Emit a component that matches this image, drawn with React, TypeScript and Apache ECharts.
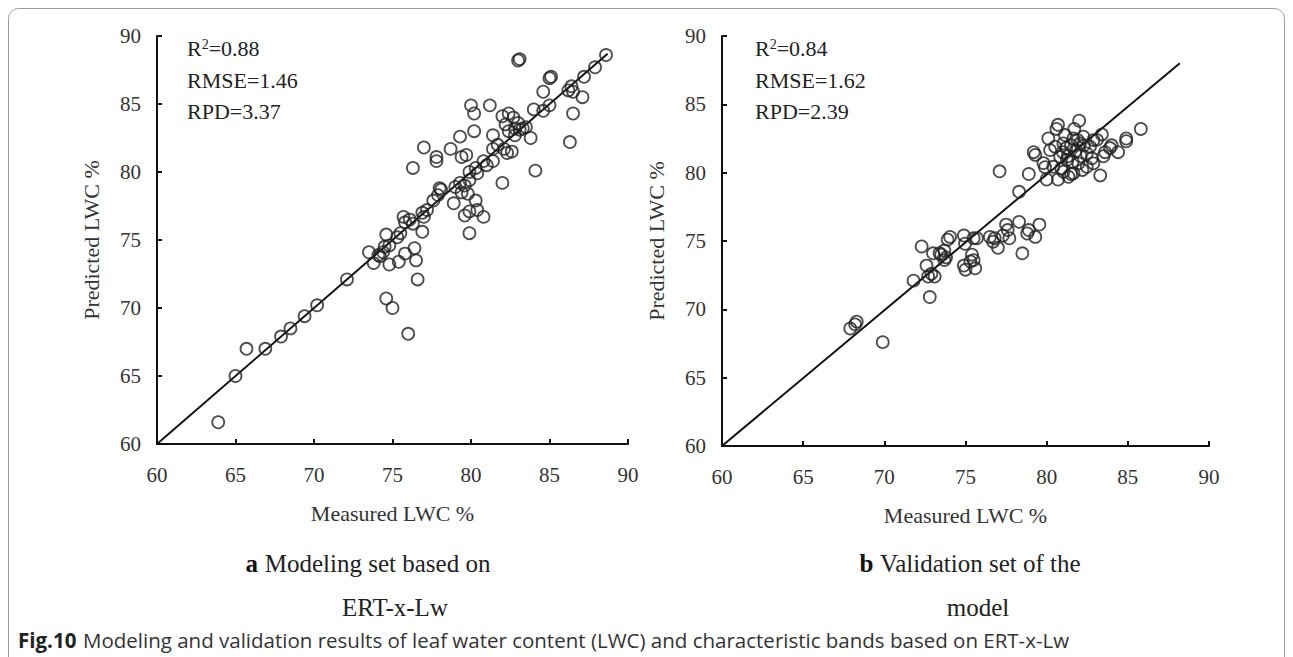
import React, { useEffect, useRef } from "react";
import * as echarts from "echarts";

const axisTicks = [60, 65, 70, 75, 80, 85, 90];

const modelingSet: number[][] = [
  [63.9, 61.6], [65.0, 65.0], [65.7, 67.0], [66.9, 67.0], [67.9, 67.9], [68.5, 68.5], [69.4, 69.4], [70.2, 70.2], [72.1, 72.1],
  [73.5, 74.1], [73.8, 73.3], [74.1, 73.9], [74.4, 74.1], [74.2, 73.8],
  [74.6, 75.4], [74.8, 74.6], [75.3, 75.2], [75.5, 75.5], [74.5, 74.5],
  [74.8, 73.2], [75.4, 73.4], [75.8, 74.0], [76.4, 74.4], [76.5, 73.5], [76.6, 72.1],
  [74.6, 70.7], [75.0, 70.0], [76.0, 68.1],
  [75.7, 76.7], [75.8, 76.3], [76.1, 76.5], [76.3, 76.2], [76.9, 75.6],
  [77.2, 77.2], [76.9, 77.0], [77.0, 76.7],
  [77.6, 77.9], [77.9, 78.3], [78.1, 78.7], [78.0, 78.8],
  [78.9, 77.7], [79.0, 78.9], [79.3, 79.2], [79.6, 79.0], [79.9, 79.4], [79.4, 78.5], [79.8, 78.4],
  [80.3, 77.9], [79.9, 77.1], [80.4, 77.2], [80.8, 76.7], [79.6, 76.8], [79.9, 75.5],
  [81.4, 80.8], [80.8, 80.8], [81.0, 80.5], [80.3, 80.3], [79.9, 80.0], [80.4, 79.9],
  [81.4, 81.7], [81.7, 82.0], [82.1, 81.7], [82.6, 81.5], [82.3, 81.4],
  [81.4, 82.7], [82.0, 79.2], [81.2, 84.9], [80.0, 84.9], [80.2, 84.3], [80.2, 83.0], [79.3, 82.6], [78.7, 81.7],
  [77.0, 81.8], [77.8, 81.1], [77.8, 80.8], [76.3, 80.3], [79.4, 81.1], [79.7, 81.25],
  [82.0, 84.1], [82.4, 84.3], [82.7, 84.0], [82.2, 83.5], [82.4, 83.0], [82.8, 83.2], [83.0, 83.6],
  [82.8, 82.7], [83.1, 83.1], [83.5, 83.3], [83.3, 83.2], [83.8, 82.5], [84.1, 80.1],
  [84.0, 84.6], [84.6, 84.5], [85.0, 84.9],
  [86.5, 84.3], [86.3, 82.2], [84.6, 85.9], [87.1, 85.5],
  [86.4, 86.3], [86.2, 86.0], [86.5, 85.9],
  [85.1, 87.0], [85.0, 86.9],
  [83.1, 88.3], [83.0, 88.2],
  [87.2, 87.0], [87.9, 87.7], [88.6, 88.6],
];

const validationSet: number[][] = [
  [69.9, 67.6], [67.9, 68.6], [68.2, 68.9], [68.3, 69.1], [71.8, 72.1], [72.3, 74.6], [72.8, 70.9],
  [72.6, 73.2], [72.7, 72.4], [72.9, 72.6], [73.1, 72.4], [73.0, 74.1], [73.4, 74.1], [73.8, 73.8], [73.7, 74.3], [73.9, 75.1],
  [73.5, 74.0], [73.7, 73.6], [74.05, 75.3], [74.9, 75.4], [75.5, 75.2], [74.97, 74.8], [75.7, 75.2], [76.5, 75.3],
  [76.8, 75.2], [76.7, 74.95], [77.0, 74.5], [77.5, 76.2], [77.6, 75.8], [77.3, 75.4], [77.7, 75.2], [78.3, 76.4],
  [78.5, 74.1], [78.8, 75.55], [78.9, 75.8], [79.3, 75.3], [79.55, 76.2],
  [74.9, 73.2], [75.0, 72.9], [75.4, 74.0], [75.5, 73.6], [75.6, 73.0], [75.3, 73.5],
  [77.1, 80.1], [78.3, 78.6], [78.9, 79.9], [79.2, 81.5], [79.3, 81.3], [79.8, 80.7], [79.9, 80.4], [80.0, 79.5], [80.7, 79.5],
  [80.1, 82.5], [80.7, 83.5], [80.6, 83.2], [81.7, 83.2], [82.0, 83.8],
  [82.06, 82.14], [82.67, 81.9], [82.78, 81.05], [82.47, 80.43], [82.88, 80.68], [81.65, 79.95], [81.34, 79.7],
  [81.03, 80.07], [80.41, 80.43], [80.52, 81.9], [81.03, 82.14], [81.13, 82.75], [81.65, 82.5], [82.26, 82.63],
  [82.47, 81.41], [81.96, 80.68], [81.24, 80.92], [80.83, 81.16], [80.21, 81.65], [82.88, 82.38],
  [81.2, 81.8], [81.5, 82.0], [81.8, 81.6], [81.3, 81.2], [81.6, 80.8], [82.1, 81.2], [81.0, 81.5], [81.9, 82.4],
  [82.3, 82.0], [80.9, 80.3], [81.5, 79.9], [82.2, 80.2],
  [83.4, 82.8], [83.1, 82.4], [83.3, 79.8], [84.0, 82.0], [83.9, 81.8], [83.6, 81.5], [83.5, 81.2], [84.4, 81.5],
  [84.9, 82.5], [84.9, 82.3], [85.8, 83.2],
];

const modelingLine: number[][] = [[60, 60], [88.7, 88.7]];
const validationLine: number[][] = [[60, 60], [88.2, 88.0]];

const modelingStats = ["0.88", "RMSE=1.46", "RPD=3.37"];
const validationStats = ["0.84", "RMSE=1.62", "RPD=2.39"];

const SERIF = "'Liberation Serif', 'Times New Roman', serif";
const SANS = "'Open Sans', 'Noto Sans', sans-serif";

export default function App() {
  const ref = useRef<HTMLDivElement>(null);
  useEffect(() => {
    if (!ref.current) return;
    const chart = echarts.init(ref.current, null, { renderer: "svg" });
    const mkX = (i: number) => ({
      gridIndex: i,
      type: "value",
      min: axisTicks[0],
      max: axisTicks[axisTicks.length - 1],
      interval: 5,
      name: "Measured LWC %",
      nameLocation: "middle",
      nameGap: 58,
      nameTextStyle: { fontFamily: SERIF, fontSize: 22, color: "#333" },
      axisLine: { lineStyle: { color: "#111", width: 2 } },
      axisTick: { inside: true, length: 5, lineStyle: { color: "#111", width: 2 } },
      axisLabel: { margin: 20, fontFamily: SERIF, fontSize: 21, color: "#333" },
      splitLine: { show: false },
    });
    const mkY = (i: number) => ({
      gridIndex: i,
      type: "value",
      min: axisTicks[0],
      max: axisTicks[axisTicks.length - 1],
      interval: 5,
      name: "Predicted LWC %",
      nameLocation: "middle",
      nameGap: 55,
      nameTextStyle: { fontFamily: SERIF, fontSize: 22, color: "#333" },
      axisLine: { lineStyle: { color: "#111", width: 2 } },
      axisTick: { inside: true, length: 5, lineStyle: { color: "#111", width: 2 } },
      axisLabel: { margin: 16, fontFamily: SERIF, fontSize: 21, color: "#333" },
      splitLine: { show: false },
    });
    const scatterStyle = {
      type: "scatter",
      symbol: "circle",
      symbolSize: 12,
      itemStyle: { color: "rgba(0,0,0,0)", borderColor: "#222", borderWidth: 1.8 },
      z: 3,
    };
    const lineStyle = {
      type: "line",
      symbol: "none",
      lineStyle: { color: "#111", width: 2 },
      z: 2,
    };
    const richStat = {
      r: { fontFamily: SERIF, fontSize: 22, fill: "#222" },
      s: { fontFamily: SERIF, fontSize: 14, fill: "#222", padding: [0, 0, 9, 0] },
    };
    const statText = (x: number, lines: string[]) =>
      lines.map((t, k) => ({
        type: "text",
        left: x,
        top: k === 0 ? 37 : 38 + k * 31,
        style:
          k === 0
            ? { text: "{r|R}{s|2}{r|=" + t + "}", rich: richStat }
            : { text: t, fontFamily: SERIF, fontSize: 22, fill: "#222" },
      }));
    chart.setOption({
      animation: false,
      backgroundColor: "#fff",
      grid: [
        { left: 157, top: 36, width: 471, height: 408 },
        { left: 722, top: 36, width: 487, height: 410 },
      ],
      xAxis: [mkX(0), mkX(1)],
      yAxis: [mkY(0), mkY(1)],
      series: [
        { ...lineStyle, xAxisIndex: 0, yAxisIndex: 0, data: modelingLine },
        { ...scatterStyle, xAxisIndex: 0, yAxisIndex: 0, data: modelingSet },
        { ...lineStyle, xAxisIndex: 1, yAxisIndex: 1, data: validationLine },
        { ...scatterStyle, xAxisIndex: 1, yAxisIndex: 1, data: validationSet },
      ],
      graphic: [
        {
          type: "rect",
          shape: { x: 8.5, y: 8.5, width: 1276, height: 660, r: 10 },
          style: { fill: "none", stroke: "#9a9a9a", lineWidth: 1 },
          silent: true,
        },
        ...statText(187, modelingStats),
        ...statText(755, validationStats),
        {
          type: "text",
          x: 368,
          y: 563,
          style: {
            text: "{b|a}  {n|Modeling set based on}",
            align: "center",
            verticalAlign: "middle",
            rich: {
              b: { fontFamily: SERIF, fontSize: 25, fontWeight: "bold", fill: "#111" },
              n: { fontFamily: SERIF, fontSize: 25, fill: "#222" },
            },
          },
        },
        {
          type: "text",
          x: 395,
          y: 607,
          style: { text: "ERT-x-Lw", align: "center", verticalAlign: "middle", fontFamily: SERIF, fontSize: 25, fill: "#222" },
        },
        {
          type: "text",
          x: 970,
          y: 563,
          style: {
            text: "{b|b}  {n|Validation set of the}",
            align: "center",
            verticalAlign: "middle",
            rich: {
              b: { fontFamily: SERIF, fontSize: 25, fontWeight: "bold", fill: "#111" },
              n: { fontFamily: SERIF, fontSize: 25, fill: "#222" },
            },
          },
        },
        {
          type: "text",
          x: 978,
          y: 607,
          style: { text: "model", align: "center", verticalAlign: "middle", fontFamily: SERIF, fontSize: 25, fill: "#222" },
        },
        {
          type: "text",
          x: 18,
          y: 640,
          style: {
            text: "{b|Fig.10}  {n|Modeling and validation results of leaf water content (LWC) and characteristic bands based on ERT-x-Lw}",
            verticalAlign: "middle",
            rich: {
              b: { fontFamily: SANS, fontSize: 20.5, fontWeight: "bold", fill: "#222" },
              n: { fontFamily: SANS, fontSize: 20.5, fill: "#333" },
            },
          },
        },
      ],
    });
    return () => chart.dispose();
  }, []);
  return <div ref={ref} style={{ position: "fixed", left: 0, top: 0, width: 1293, height: 657 }} />;
}
